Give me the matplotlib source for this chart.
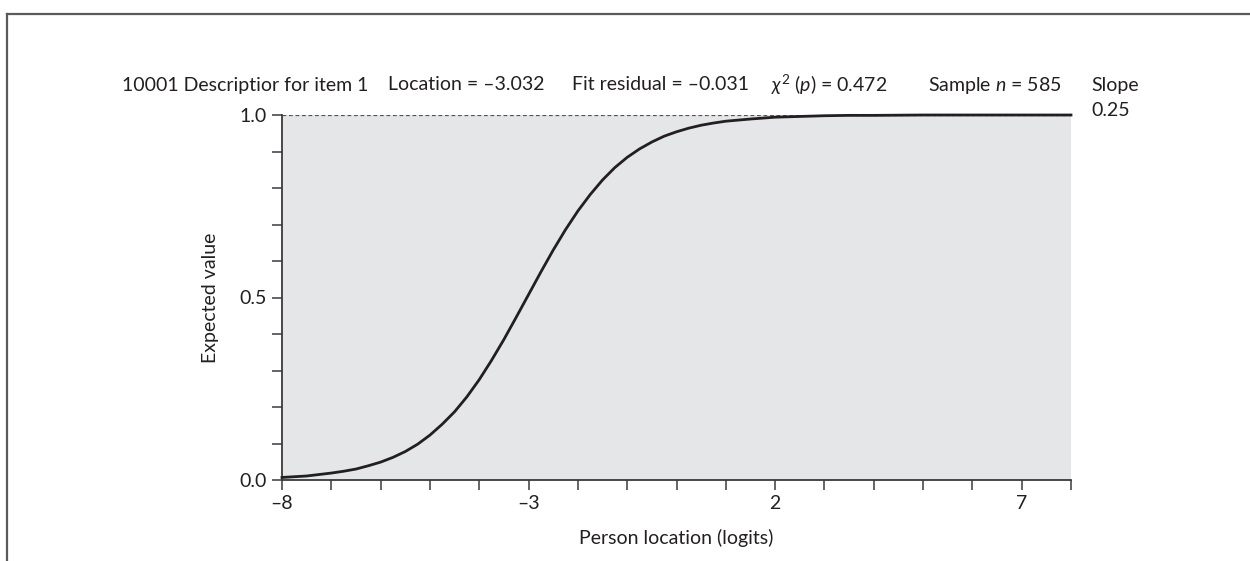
import matplotlib
matplotlib.use("Agg")
import matplotlib.pyplot as plt
from matplotlib.lines import Line2D

# ============================================================
# Fonts
# ============================================================

plt.rcParams['font.family'] = ['Lato', 'DejaVu Sans']
plt.rcParams['mathtext.fontset'] = 'custom'
plt.rcParams['mathtext.rm'] = 'Lato'
plt.rcParams['mathtext.it'] = 'Lato:italic'
plt.rcParams['mathtext.sf'] = 'Lato'

# ============================================================
# Item characteristic curve (expected value vs person location)
# ============================================================

person_location = [-8.0, -7.75, -7.5, -7.25, -7.0, -6.75, -6.5, -6.25,
                   -6.0, -5.75, -5.5, -5.25, -5.0, -4.75, -4.5, -4.25,
                   -4.0, -3.75, -3.5, -3.25, -3.0, -2.75, -2.5, -2.25,
                   -2.0, -1.75, -1.5, -1.25, -1.0, -0.75, -0.5, -0.25,
                   0.0, 0.25, 0.5, 0.75, 1.0, 1.25, 1.5, 2.0, 2.5, 3.0,
                   3.5, 4.0, 5.0, 6.0, 7.0, 8.0]

expected_value = [0.007, 0.009, 0.011, 0.015, 0.019, 0.024, 0.030, 0.039,
                  0.049, 0.062, 0.078, 0.098, 0.123, 0.153, 0.187, 0.228,
                  0.275, 0.328, 0.385, 0.446, 0.508, 0.570, 0.630, 0.686,
                  0.737, 0.782, 0.822, 0.856, 0.884, 0.907, 0.926, 0.942,
                  0.954, 0.964, 0.972, 0.978, 0.983, 0.986, 0.989, 0.994,
                  0.996, 0.998, 0.999, 0.999, 1.000, 1.000, 1.000, 1.000]

x_ticks = [-8, -3, 2, 7]
x_tick_labels = ["\u20138", "\u20133", "2", "7"]
x_minor = list(range(-8, 9))

y_ticks = [0.0, 0.5, 1.0]
y_tick_labels = ["0.0", "0.5", "1.0"]
y_minor = [i / 10 for i in range(11)]

header = [
    ("10001 Descriptior for item 1", 122),
    ("Location = \u20133.032", 388),
    ("Fit residual = \u20130.031", 572),
    (r"$\chi^2$ ($p$) = 0.472", 771),
    (r"Sample $n$ = 585", 928),
    ("Slope", 1091),
]
slope_value = "0.25"

# ============================================================
# Figure
# ============================================================

W, H = 1250, 561
fig = plt.figure(figsize=(W / 100, H / 100), dpi=100)

text_col = "#231f20"
axis_col = "#3a3a3a"
fs = 14

# outer frame (top and left edges only)
fig.add_artist(Line2D([7 / W, 1.0], [1 - 14 / H, 1 - 14 / H],
                      transform=fig.transFigure, color="#5a5a5a", lw=1.6))
fig.add_artist(Line2D([7 / W, 7 / W], [1 - 14 / H, 0.0],
                      transform=fig.transFigure, color="#5a5a5a", lw=1.6))

ax = fig.add_axes([282 / W, 1 - 480 / H, (1071 - 282) / W, (480 - 115) / H])
ax.set_facecolor("#e5e6e8")

ax.plot(person_location, expected_value, color=text_col, lw=2.0,
        clip_on=False, zorder=3, solid_joinstyle="round")

ax.axhline(1.0, ls=(0, (3, 2.2)), color="#555555", lw=0.9, zorder=2)

# ============================================================
# Axes formatting
# ============================================================

ax.set_xlim(-8, 8)
ax.set_ylim(0, 1)

for side in ["top", "right"]:
    ax.spines[side].set_visible(False)
for side in ["left", "bottom"]:
    ax.spines[side].set_color(axis_col)
    ax.spines[side].set_linewidth(1.3)

ax.set_xticks(x_minor, minor=True)
ax.set_yticks(y_minor, minor=True)
ax.set_xticks(x_ticks)
ax.set_xticklabels(x_tick_labels)
ax.set_yticks(y_ticks)
ax.set_yticklabels(y_tick_labels)

ax.tick_params(which="both", direction="out", length=7, width=1.1,
               color=axis_col, labelsize=fs, labelcolor=text_col, pad=4)

ax.set_xlabel("Person location (logits)", fontsize=fs, color=text_col,
              labelpad=12)
ax.set_ylabel("Expected value", fontsize=fs, color=text_col, labelpad=15)

# ============================================================
# Header line
# ============================================================

for txt, px in header:
    fig.text(px / W, 1 - 85 / H, txt, fontsize=fs, color=text_col,
             ha="left", va="center")

fig.text(1091 / W, 1 - 111 / H, slope_value, fontsize=fs, color=text_col,
         ha="left", va="center")

fig.savefig("out.png", dpi=100)
